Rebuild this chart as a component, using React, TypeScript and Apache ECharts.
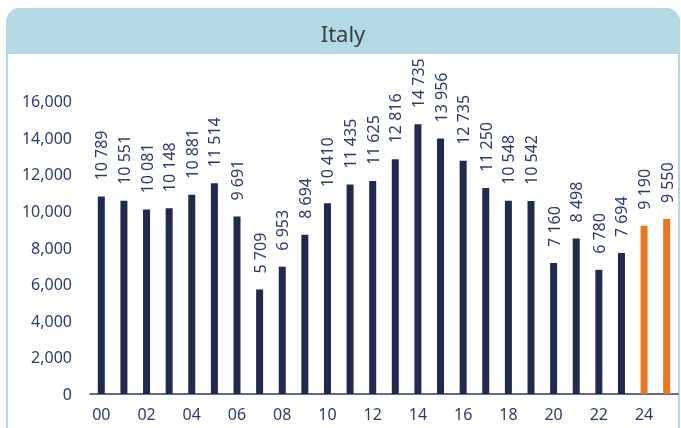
import React, { useEffect, useRef } from "react";
import * as echarts from "echarts";

const title = "Italy";
const years = ["00","01","02","03","04","05","06","07","08","09","10","11","12","13","14","15","16","17","18","19","20","21","22","23","24","25"];
const values = [10789,10551,10081,10148,10881,11514,9691,5709,6953,8694,10410,11435,11625,12816,14735,13956,12735,11250,10548,10542,7160,8498,6780,7694,9190,9550];
const forecastFrom = 24; // index of first forecast bar
const yTicks = { min: 0, max: 16000, interval: 2000 };

const NAVY = "#1f2a4e";
const ORANGE = "#e87722";
const TEXT = "#2d3b6e";
const FRAME = "#b3d9e5";
const FONT = "Noto Sans";

function fmtSpace(v: number) {
  return String(v).replace(/\B(?=(\d{3})+(?!\d))/g, " ");
}

export default function App() {
  const ref = useRef<HTMLDivElement>(null);
  useEffect(() => {
    if (!ref.current) return;
    const chart = echarts.init(ref.current, null, { renderer: "svg" });
    chart.setOption({
      animation: false,
      textStyle: { fontFamily: FONT },
      graphic: [
        {
          type: "rect",
          shape: { x: 7, y: 9, width: 672, height: 440, r: [14, 14, 0, 0] },
          style: { fill: "#fff", stroke: FRAME, lineWidth: 2 },
          z: -10,
        },
        {
          type: "rect",
          shape: { x: 6, y: 8, width: 674, height: 46, r: [14, 14, 0, 0] },
          style: { fill: FRAME },
          z: -9,
        },
        {
          type: "text",
          x: 343,
          y: 33,
          style: {
            text: title,
            fill: "#3c3c3c",
            font: `22px "${FONT}"`,
            align: "center",
            verticalAlign: "middle",
          },
          z: 5,
        },
      ],
      grid: { left: 90, right: 3, top: 101, bottom: 34, containLabel: false },
      xAxis: {
        type: "category",
        data: years,
        axisLine: { show: true, lineStyle: { color: TEXT, width: 1.5 } },
        axisTick: { show: false },
        axisLabel: { interval: 1, color: TEXT, fontSize: 16, margin: 12, fontFamily: FONT },
      },
      yAxis: {
        type: "value",
        min: yTicks.min,
        max: yTicks.max,
        interval: yTicks.interval,
        splitLine: { show: false },
        axisLine: { show: false },
        axisTick: { show: false },
        axisLabel: {
          color: TEXT,
          fontSize: 16,
          margin: 18,
          fontFamily: FONT,
          formatter: (v: number) => v.toLocaleString("en-US"),
        },
      },
      series: [
        {
          type: "bar",
          barWidth: 7,
          data: values.map((v, i) => ({
            value: v,
            itemStyle: { color: i >= forecastFrom ? ORANGE : NAVY },
          })),
          label: {
            show: true,
            position: "top",
            rotate: 90,
            align: "left",
            verticalAlign: "middle",
            distance: 16,
            color: TEXT,
            fontSize: 16,
            fontFamily: FONT,
            formatter: (p: any) => fmtSpace(p.value),
          },
        },
      ],
    });
    return () => chart.dispose();
  }, []);
  return (
    <div
      ref={ref}
      style={{ position: "fixed", left: 0, top: 0, width: 681, height: 428 }}
    />
  );
}
